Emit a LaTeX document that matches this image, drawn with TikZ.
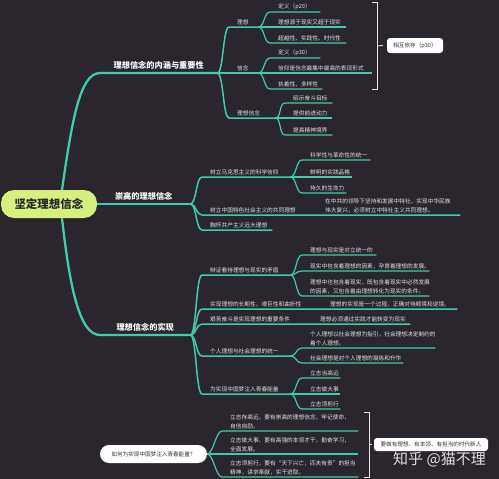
\documentclass[tikz,border=0pt]{standalone}
\usepackage{fontspec}
\setmainfont{Noto Sans CJK SC}
\definecolor{bgdark}{RGB}{43,38,46}
\definecolor{mint}{RGB}{62,205,172}
\definecolor{lime}{RGB}{214,240,128}
\definecolor{chalk}{RGB}{226,226,226}

\begin{document}
\begin{tikzpicture}[
    x=1pt, y=-1pt,
    root/.style={rounded corners=13pt, fill=lime, text=black!85, font=\bfseries\fontsize{11.5}{13}\selectfont, minimum width=96pt, minimum height=28pt, inner sep=0pt},
    branch/.style={anchor=south west, font=\bfseries\fontsize{8.2}{9}\selectfont, text=white, align=center, inner xsep=0pt, inner ysep=3pt},
    leaf/.style={anchor=south west, font=\fontsize{5.7}{8.5}\selectfont, text=chalk, align=left, inner xsep=0pt, inner ysep=2pt},
    tag/.style={fill=white, rounded corners=3pt, text=black!80, font=\fontsize{5.6}{7}\selectfont, inner sep=0pt},
    trunk/.style={draw=mint, line width=2.3pt},
    twig/.style={draw=mint, line width=1.5pt},
    leafline/.style={draw=mint, line width=1.2pt},
    sprout/.style={to path={.. controls +(6,0) and +(-6,0) .. ([xshift=-8pt]\tikztotarget.south west) -- (\tikztotarget.south east)}},
    bracket/.style={draw=chalk, line width=0.9pt}
]
\useasboundingbox (0,0) rectangle (499,479);
\fill[bgdark] (0,0) rectangle (499,479);

% Nodes
\node[root] (core) at (49,204) {坚定理想信念};
\coordinate (hubup) at (62,190);
\coordinate (hubdown) at (62,218);

\node[branch, text width=117pt] (meaning) at (100,73) {理想信念的内涵与重要性};
\node[branch, text width=93pt] (lofty) at (97,204) {崇高的理想信念};
\node[branch, text width=90pt] (practice) at (100,335) {理想信念的实现};

\node[leaf, text width=21pt] (ideal) at (237,27) {理想};
\node[leaf, text width=21pt] (belief) at (237,73) {信念};
\node[leaf, text width=38pt] (ib) at (237,118) {理想信念};

\node[leaf, text width=42pt] (idef) at (278,12) {定义（p29）};
\node[leaf, text width=68pt] (isrc) at (278,27) {理想源于现实又超于现实};
\node[leaf, text width=68pt] (itrait) at (278,43) {超越性、实践性、时代性};
\node[leaf, text width=42pt] (bdef) at (278,58) {定义（p30）};
\node[leaf, text width=94pt] (bform) at (278,73) {信仰是信念最集中最高的表现形式};
\node[leaf, text width=44pt] (btrait) at (278,89) {执着性、多样性};
\node[leaf, text width=39pt] (aim) at (293,103) {昭示奋斗目标};
\node[leaf, text width=39pt] (drive) at (293,118) {提供前进动力};
\node[leaf, text width=39pt] (realm) at (293,135) {提高精神境界};

\node[tag, minimum width=56pt, minimum height=15pt] (mutual) at (415,45.5) {相互依存（p30）};
\coordinate (brace1) at (377,46);

\node[leaf, text width=80pt] (marx) at (210,177) {树立马克思主义的科学信仰};
\node[leaf, text width=250pt] (china) at (210,215) {树立中国特色社会主义的共同理想};
\node[leaf, text width=62pt] (commu) at (210,230) {胸怀共产主义远大理想};
\node[leaf] (chinanote) at (325,215) {在中共的领导下坚持和发展中特社，实现中华民族\\伟大复兴，必须树立中特社主义共同理想。};

\node[leaf, text width=60pt] (sci) at (310,160) {科学性与革命性的统一};
\node[leaf, text width=42pt] (prax) at (310,177) {鲜明的实践品格};
\node[leaf, text width=36pt] (vital) at (310,193) {持久的生命力};

\node[leaf, text width=80pt] (dial) at (210,275) {辩证看待理想与现实的矛盾};
\node[leaf, text width=247pt] (long) at (210,309) {实现理想的长期性、艰巨性和曲折性};
\node[leaf, text width=200pt] (hard) at (210,324) {艰苦奋斗是实现理想的重要条件};
\node[leaf, text width=80pt] (unity) at (210,356) {个人理想与社会理想的统一};
\node[leaf, text width=80pt] (dream) at (210,394) {为实现中国梦注入青春能量};
\node[leaf] (longnote) at (330,309) {理想的实现是一个过程，正确对待顺境和逆境。};
\node[leaf] (hardnote) at (320,324) {理想必须通过实践才能转变为现实};

\node[leaf, text width=66pt] (opp) at (310,255) {理想与现实是对立统一的};
\node[leaf, text width=119pt] (real) at (310,271) {现实中包含着理想的因素，孕育着理想的发展。};
\node[leaf, text width=119pt] (idea) at (310,296) {理想中也包含着现实，既包含着现实中必然发展\\的因素，又包含着由理想转化为现实的条件。};
\node[leaf, text width=125pt] (guide) at (310,348) {个人理想以社会理想为指引，社会理想决定制约的\\着个人理想。};
\node[leaf, text width=93pt] (sublim) at (310,363) {社会理想是对个人理想的凝练和升华};
\node[leaf, text width=30pt] (far) at (310,378) {立志当高远};
\node[leaf, text width=30pt] (big) at (310,394) {立志做大事};
\node[leaf, text width=30pt] (act) at (310,409) {立志须躬行};

\node[tag, rounded corners=9pt, minimum width=107pt, minimum height=18pt] (ask) at (153.5,454) {如何为实现中国梦注入青春能量？};
\node[leaf, text width=128pt] (lofty2) at (230,431) {立志存高远，要有崇高的理想信念，牢记使命，\\自信自励。};
\node[leaf, text width=128pt] (task) at (230,454) {立志做大事，要有高强的本领才干，勤奋学习，\\全面发展。};
\node[leaf, text width=128pt] (deed) at (230,477) {立志须躬行，要有“天下兴亡，匹夫有责”的担当\\精神，讲求奉献，实干进取。};

\node[tag, minimum width=114pt, minimum height=13pt] (newman) at (431,444.5) {要做有理想、有本领、有担当的时代新人};
\coordinate (brace2) at (369,444);

\node[font=\fontsize{15}{16}\selectfont, text=white, opacity=0.85, anchor=west, inner sep=0pt] (mark) at (393,459) {知乎 @猫不理};

% Links
\draw[trunk] (hubup) .. controls +(10,-70) and +(-20,0) .. (meaning.south west) -- (meaning.south east);
\draw[trunk] (core.east) -- (lofty.south east);
\draw[trunk] (hubdown) .. controls +(8,72) and +(-20,0) .. (practice.south west) -- (practice.south east);

\draw[twig] (meaning.south east) edge[sprout] (ideal) edge[sprout] (belief) edge[sprout] (ib);
\draw[leafline] (ideal.south east) edge[sprout] (idef) edge[sprout] (isrc) edge[sprout] (itrait);
\draw[leafline] (belief.south east) edge[sprout] (bdef) edge[sprout] (bform) edge[sprout] (btrait);
\draw[leafline] (ib.south east) edge[sprout] (aim) edge[sprout] (drive) edge[sprout] (realm);

\draw[twig] (lofty.south east) edge[sprout] (marx) edge[sprout] (china) edge[sprout] (commu);
\draw[leafline] (marx.south east) edge[sprout] (sci) edge[sprout] (prax) edge[sprout] (vital);

\draw[twig] (practice.south east) edge[sprout] (dial) edge[sprout] (long) edge[sprout] (hard) edge[sprout] (unity) edge[sprout] (dream);
\draw[leafline] (dial.south east) edge[sprout] (opp) edge[sprout] (real) edge[sprout] (idea);
\draw[leafline] (unity.south east) edge[sprout] (guide) edge[sprout] (sublim);
\draw[leafline] (dream.south east) edge[sprout] (far) edge[sprout] (big) edge[sprout] (act);

\draw[leafline] (ask.east) edge[sprout] (lofty2) edge[sprout] (task) edge[sprout] (deed);

% Brackets
\draw[bracket] (372,2) -- (377,2) -- (377,89) -- (372,89);
\draw[bracket] (brace1) -- ([xshift=-4pt]mutual.west);
\draw[bracket] (364,412) -- (369,412) -- (369,477) -- (364,477);
\draw[bracket] (brace2) -- ([xshift=-2pt]newman.west);

\end{tikzpicture}
\end{document}
